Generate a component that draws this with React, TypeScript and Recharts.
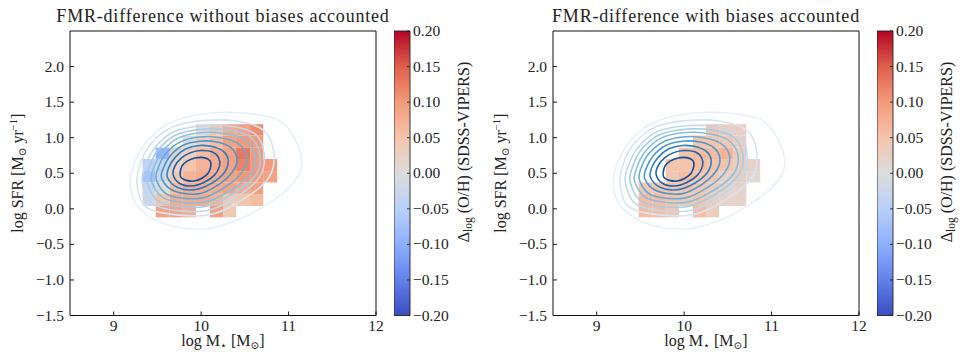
import React from 'react';
import { ComposedChart, XAxis, YAxis, Scatter, ReferenceArea } from 'recharts';

const FONT = '"Liberation Serif", "DejaVu Serif", serif';

// ---------- data ----------
const xTicks = [9, 10, 11, 12];
const yTicks = [-1.5, -1.0, -0.5, 0.0, 0.5, 1.0, 1.5, 2.0];
const cbTicks = [-0.2, -0.15, -0.1, -0.05, 0.0, 0.05, 0.1, 0.15, 0.2];

const xBinEdges = [9.33, 9.48, 9.64, 9.79, 9.94, 10.1, 10.25, 10.4, 10.56, 10.71, 10.87];
const yBinEdges = [-0.12, 0.04, 0.21, 0.37, 0.53, 0.7, 0.86, 1.03, 1.19];

// rows listed from top bin to bottom bin, columns left to right; null = empty bin
const diffWithoutBias: (number | null)[][] = [
  [null, null, null, null, 0.005, 0.04, 0.08, 0.09, 0.11, null],
  [null, null, null, 0.0, 0.03, 0.06, 0.09, 0.1, 0.1, null],
  [null, -0.09, 0.015, 0.03, 0.06, 0.08, 0.09, 0.13, 0.1, null],
  [-0.045, -0.03, 0.02, 0.05, 0.07, 0.08, 0.09, 0.12, 0.1, 0.1],
  [-0.07, -0.02, 0.04, 0.07, 0.08, 0.08, 0.09, 0.1, 0.1, 0.09],
  [-0.03, 0.0, 0.06, 0.08, 0.08, 0.08, 0.09, 0.08, 0.09, null],
  [-0.02, 0.05, 0.08, 0.08, 0.08, 0.07, 0.04, 0.05, 0.06, null],
  [null, 0.09, 0.09, 0.08, null, 0.09, 0.04, null, null, null],
];

const diffWithBias: (number | null)[][] = [
  [null, null, null, null, null, null, 0.05, 0.03, 0.03, null],
  [null, null, null, null, null, 0.05, 0.05, 0.04, 0.03, null],
  [null, null, null, null, 0.05, 0.06, 0.06, 0.07, 0.03, null],
  [null, null, null, 0.05, 0.05, 0.06, 0.05, 0.05, 0.03, 0.02],
  [null, null, null, 0.04, 0.06, 0.05, 0.04, 0.02, 0.03, 0.01],
  [null, 0.04, 0.05, 0.05, 0.05, 0.04, 0.03, 0.02, 0.02, null],
  [null, 0.06, 0.06, 0.05, 0.04, 0.05, 0.03, 0.02, 0.02, null],
  [null, 0.06, 0.06, 0.05, null, 0.06, 0.03, null, null, null],
];

// density contours (log M*, log SFR), innermost first
const contourL1 = [[9.76,0.5],[9.78,0.6],[9.84,0.67],[9.93,0.715],[10.03,0.72],[10.1,0.68],[10.11,0.6],[10.08,0.5],[10.01,0.43],[9.92,0.39],[9.83,0.4],[9.77,0.44]];
const contourL2 = [[9.68,0.48],[9.7,0.6],[9.77,0.71],[9.88,0.79],[10.0,0.82],[10.13,0.8],[10.2,0.72],[10.21,0.6],[10.15,0.47],[10.03,0.37],[9.89,0.32],[9.75,0.36]];
const contourL3 = [[9.615,0.44],[9.63,0.58],[9.7,0.72],[9.82,0.84],[9.98,0.89],[10.15,0.87],[10.27,0.79],[10.31,0.66],[10.26,0.5],[10.12,0.36],[9.93,0.27],[9.73,0.3]];
const contourL4 = [[9.55,0.42],[9.57,0.58],[9.65,0.75],[9.79,0.89],[9.98,0.95],[10.18,0.94],[10.34,0.86],[10.41,0.7],[10.36,0.52],[10.2,0.34],[9.97,0.21],[9.69,0.25]];
const contourL5 = [[9.49,0.4],[9.51,0.58],[9.6,0.78],[9.76,0.94],[9.98,1.01],[10.22,1.0],[10.42,0.92],[10.52,0.74],[10.47,0.52],[10.28,0.31],[10.0,0.15],[9.63,0.19]];
const contourL6 = [[9.435,0.38],[9.46,0.58],[9.55,0.8],[9.73,0.99],[9.98,1.07],[10.26,1.06],[10.5,0.97],[10.615,0.76],[10.57,0.5],[10.35,0.27],[10.02,0.09],[9.59,0.14]];
const contourL7 = [[9.385,0.37],[9.41,0.59],[9.51,0.83],[9.7,1.03],[9.98,1.115],[10.3,1.11],[10.56,1.01],[10.67,0.77],[10.63,0.49],[10.4,0.24],[10.03,0.03],[9.54,0.09]];
const contourL8 = [[9.33,0.35],[9.36,0.6],[9.47,0.86],[9.68,1.08],[9.99,1.165],[10.34,1.16],[10.62,1.05],[10.72,0.78],[10.68,0.47],[10.44,0.2],[10.04,-0.03],[9.49,0.04]];
const contourL9 = [[9.27,0.32],[9.3,0.62],[9.43,0.92],[9.67,1.15],[10.02,1.24],[10.42,1.23],[10.72,1.1],[10.83,0.8],[10.78,0.45],[10.5,0.15],[10.06,-0.09],[9.42,-0.01]];
const contourL10 = [[9.19,0.3],[9.23,0.62],[9.38,0.95],[9.63,1.2],[10.0,1.33],[10.45,1.35],[10.88,1.25],[11.08,0.96],[11.15,0.62],[11.05,0.36],[10.8,0.1],[10.45,-0.14],[10.05,-0.28],[9.6,-0.22],[9.3,0.0]];

const contours = [contourL1, contourL2, contourL3, contourL4, contourL5, contourL6, contourL7, contourL8, contourL9, contourL10];
const contourColors = ['#0f4f9a', '#1b62aa', '#3080c0', '#4a97cb', '#68acd5', '#88bfdd', '#a5cde5', '#bfdaee', '#d5e5f4', '#e6f0f9'];

const coolwarm: [number, string][] = [
  [0, '#3b4cc0'], [0.125, '#6282ea'], [0.25, '#8db0fe'], [0.375, '#b9d0f9'], [0.5, '#dddddd'],
  [0.625, '#f5c4ac'], [0.75, '#f49a7b'], [0.875, '#de604d'], [1, '#b40426'],
];

// ---------- helpers ----------
const hex = (h: string) => [parseInt(h.slice(1, 3), 16), parseInt(h.slice(3, 5), 16), parseInt(h.slice(5, 7), 16)];
const cmap = (v: number) => {
  const t = Math.max(0, Math.min(1, (v + 0.2) / 0.4));
  for (let i = 0; i < coolwarm.length - 1; i++) {
    const [t0, c0] = coolwarm[i];
    const [t1, c1] = coolwarm[i + 1];
    if (t <= t1) {
      const f = (t - t0) / (t1 - t0);
      const a = hex(c0), b = hex(c1);
      const c = a.map((x, k) => Math.round(x + (b[k] - x) * f));
      return `rgb(${c[0]},${c[1]},${c[2]})`;
    }
  }
  return coolwarm[coolwarm.length - 1][1];
};

const closedSpline = (context: any) => {
  let pts: number[][] = [];
  return {
    areaStart() {},
    areaEnd() {},
    lineStart() { pts = []; },
    point(x: number, y: number) { pts.push([+x, +y]); },
    lineEnd() {
      const n = pts.length;
      if (n < 3) return;
      context.moveTo(pts[0][0], pts[0][1]);
      for (let i = 0; i < n; i++) {
        const p0 = pts[(i - 1 + n) % n], p1 = pts[i], p2 = pts[(i + 1) % n], p3 = pts[(i + 2) % n];
        context.bezierCurveTo(
          p1[0] + (p2[0] - p0[0]) / 6, p1[1] + (p2[1] - p0[1]) / 6,
          p2[0] - (p3[0] - p1[0]) / 6, p2[1] - (p3[1] - p1[1]) / 6,
          p2[0], p2[1]
        );
      }
      context.closePath();
    },
  };
};

const fmt = (v: number, d: number) => (v < 0 ? '\u2212' : '') + Math.abs(v).toFixed(d);
const NoShape = () => <g />;

const TICK_FS = 15.5;

const XTick = (p: any) => {
  const { x, y, payload } = p;
  return (
    <g>
      <line x1={x} x2={x} y1={y} y2={y - 4} stroke="#000" strokeWidth={0.9} />
      <text x={x} y={y + 15} textAnchor="middle" fontSize={TICK_FS} fontFamily={FONT} fill="#222">{payload.value}</text>
    </g>
  );
};
const YTick = (p: any) => {
  const { x, y, payload } = p;
  return (
    <g>
      <line x1={x} x2={x + 4} y1={y} y2={y} stroke="#000" strokeWidth={0.9} />
      <text x={x - 6} y={y + 5} textAnchor="end" fontSize={TICK_FS} fontFamily={FONT} fill="#222">{fmt(payload.value, 1)}</text>
    </g>
  );
};
const CbTick = (p: any) => {
  const { x, y, payload } = p;
  return (
    <g>
      <line x1={x - 3} x2={x} y1={y} y2={y} stroke="#222" strokeWidth={0.9} />
      <text x={x + 3} y={y + 5} textAnchor="start" fontSize={TICK_FS} fontFamily={FONT} fill="#222">{fmt(payload.value, 2)}</text>
    </g>
  );
};

const xLabel = (p: any) => {
  const vb = p.viewBox;
  return (
    <text x={vb.x + vb.width / 2} y={vb.y + 30.5} textAnchor="middle" fontSize={16} fontFamily={FONT} fill="#222">
      log M<tspan fontSize={10.5} dy={3}>⋆</tspan><tspan dy={-3}> [M</tspan><tspan fontSize={10.5} dy={3}>⊙</tspan><tspan dy={-3}>]</tspan>
    </text>
  );
};
const yLabel = (p: any) => {
  const vb = p.viewBox;
  const cx = 23, cy = vb.y + vb.height / 2;
  return (
    <text x={cx} y={cy} transform={`rotate(-90 ${cx} ${cy})`} textAnchor="middle" fontSize={16} fontFamily={FONT} fill="#222">
      log SFR [M<tspan fontSize={10.5} dy={3}>⊙</tspan><tspan dy={-3}> yr</tspan><tspan fontSize={10.5} dy={-6}>−1</tspan><tspan dy={6}>]</tspan>
    </text>
  );
};
const cbLabel = (p: any) => {
  const vb = p.viewBox;
  const cx = vb.x + 59, cy = vb.y + 121;
  return (
    <text x={cx} y={cy} transform={`rotate(-90 ${cx} ${cy})`} textAnchor="middle" fontSize={16} fontFamily={FONT} fill="#222">
      Δ<tspan fontSize={11.5} dy={3}>log</tspan><tspan dy={-3}> (O/H) (SDSS-VIPERS)</tspan>
    </text>
  );
};

const buildCells = (m: (number | null)[][]) => {
  const out: { x1: number; x2: number; y1: number; y2: number; v: number }[] = [];
  const nRows = m.length;
  m.forEach((row, i) => {
    const r = nRows - 1 - i;
    row.forEach((v, c) => {
      if (v !== null) out.push({ x1: xBinEdges[c], x2: xBinEdges[c + 1], y1: yBinEdges[r], y2: yBinEdges[r + 1], v });
    });
  });
  return out;
};

const Colorbar = ({ id }: { id: string }) => (
  <ComposedChart width={86} height={357} margin={{ top: 31, right: 0, bottom: 41.5, left: 0 }}>
    <defs>
      <linearGradient id={id} x1="0" y1="1" x2="0" y2="0">
        {coolwarm.map(([t, c]) => <stop key={t} offset={t} stopColor={c} />)}
      </linearGradient>
    </defs>
    <XAxis type="number" dataKey="x" domain={[0, 1]} hide allowDataOverflow />
    <YAxis type="number" dataKey="y" orientation="right" domain={[-0.2, 0.2]} ticks={cbTicks} interval={0}
      width={70} tickSize={0} tickMargin={0} tick={CbTick} axisLine={false} tickLine={false} allowDataOverflow label={cbLabel} />
    <ReferenceArea x1={0} x2={1} y1={-0.2} y2={0.2} fill={`url(#${id})`} fillOpacity={1} stroke="#222" strokeWidth={0.9} />
    <Scatter data={[{ x: 0, y: -0.2 }, { x: 1, y: 0.2 }]} shape={NoShape} isAnimationActive={false} />
  </ComposedChart>
);

const Panel = ({ left, title, matrix, id }: { left: number; title: string; matrix: (number | null)[][]; id: string }) => {
  const cells = buildCells(matrix);
  return (
    <div style={{ position: 'absolute', left, top: 0, width: 482, height: 357 }}>
      <svg width={482} height={30} style={{ position: 'absolute', left: 0, top: 0 }}>
        <text x={223} y={22} textAnchor="middle" fontSize={18} letterSpacing={0.8} fontFamily={FONT} fill="#222">{title}</text>
      </svg>
      <div style={{ position: 'absolute', left: 0, top: 0 }}>
        <ComposedChart width={392} height={357} margin={{ top: 31, right: 16, bottom: 0, left: 0 }}>
          <XAxis type="number" dataKey="x" domain={[8.5, 12]} ticks={xTicks} interval={0} allowDataOverflow height={41.5}
            tickSize={0} tickMargin={0} tick={XTick} axisLine={false} tickLine={false} label={xLabel} />
          <YAxis type="number" dataKey="y" domain={[-1.5, 2.5]} ticks={yTicks} interval={0} allowDataOverflow width={70}
            tickSize={0} tickMargin={0} tick={YTick} axisLine={false} tickLine={false} label={yLabel} />
          {cells.map((c, i) => (
            <ReferenceArea key={`c${i}`} x1={c.x1} x2={c.x2} y1={c.y1} y2={c.y2} fill={cmap(c.v)} fillOpacity={1} stroke="none" />
          ))}
          {contours.slice().reverse().map((pts, j) => {
            const k = contours.length - 1 - j;
            return (
              <Scatter key={`k${k}`} data={pts.map(([x, y]) => ({ x, y }))} shape={NoShape} fill={contourColors[k]}
                line={{ stroke: contourColors[k], strokeWidth: 1.6 }} lineType="joint" lineJointType={closedSpline as any}
                isAnimationActive={false} />
            );
          })}
          <ReferenceArea x1={8.5} x2={12} y1={-1.5} y2={2.5} fill="none" fillOpacity={0} stroke="#111" strokeWidth={1} />
        </ComposedChart>
      </div>
      <div style={{ position: 'absolute', left: 394, top: 0 }}>
        <Colorbar id={id} />
      </div>
    </div>
  );
};

export default function App() {
  return (
    <div style={{ position: 'absolute', left: 0, top: 0, width: 965, height: 357, background: '#fff', overflow: 'hidden' }}>
      <Panel left={0} title="FMR-difference without biases accounted" matrix={diffWithoutBias} id="cbA" />
      <Panel left={483} title="FMR-difference with biases accounted" matrix={diffWithBias} id="cbB" />
    </div>
  );
}
